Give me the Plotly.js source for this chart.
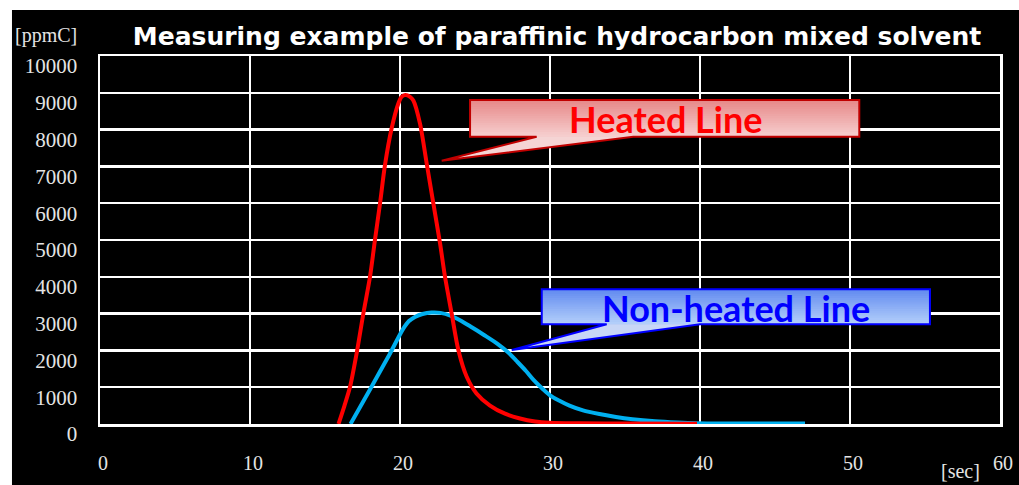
<!DOCTYPE html>
<html>
<head>
<meta charset="utf-8">
<script src="https://cdn.plot.ly/plotly-3.0.1.min.js"></script>
<style>html,body{margin:0;padding:0;background:#fff;}#chart{width:1019px;height:485px;}</style>
</head>
<body>
<div id="chart"></div>
<script>
// ---- data ----
const heatedTime = [15.9, 16.3, 16.67, 17.1, 17.56, 18.0, 18.33, 18.67, 19.0, 19.44, 19.89, 20.1, 20.35, 20.67, 20.89, 21.33, 21.78, 22.22, 22.67, 23.0, 23.44, 23.89, 24.44, 25.1, 26.0, 27.0, 28.0, 29.0, 30.0, 32.0, 35.0, 39.8];
const heatedPpmC = [0, 500, 1010, 1900, 3010, 4000, 5000, 6000, 7040, 8030, 8710, 8890, 8940, 8890, 8790, 8170, 7080, 6000, 4910, 4000, 3010, 2010, 1290, 830, 500, 280, 150, 70, 35, 20, 12, 8];

const nonHeatedTime = [16.7, 18.0, 19.3, 20.2, 20.6, 21.0, 21.5, 22.1, 22.7, 23.4, 24.0, 24.7, 25.6, 26.5, 27.2, 27.8, 28.4, 28.9, 29.5, 30.0, 30.6, 31.3, 32.2, 33.3, 34.4, 35.5, 37.0, 38.5, 39.7, 42.0, 47.0];
const nonHeatedPpmC = [0, 940, 1890, 2580, 2800, 2910, 2990, 3030, 3020, 2940, 2820, 2650, 2420, 2180, 1950, 1700, 1440, 1200, 960, 780, 640, 500, 370, 270, 190, 130, 75, 40, 20, 12, 12];

const xTickVals = [0, 10, 20, 30, 40, 50, 60];
const yTickVals = [0, 1000, 2000, 3000, 4000, 5000, 6000, 7000, 8000, 9000, 10000];

const titleText = "Measuring example of paraffinic hydrocarbon mixed solvent";
const yUnit = "[ppmC]";
const xUnit = "[sec]";
const heatedLabel = "Heated Line";
const nonHeatedLabel = "Non-heated Line";

// ---- helpers for callout styling ----
function lerp(a, b, f) { return Math.round(a + (b - a) * f); }
function calloutShapes(box, tail, topRGB, botRGB, tailFill, border) {
  const shapes = [];
  const n = 16;
  for (let i = 0; i < n; i++) {
    const f = i / (n - 1);
    const c = 'rgb(' + lerp(topRGB[0], botRGB[0], f) + ',' + lerp(topRGB[1], botRGB[1], f) + ',' + lerp(topRGB[2], botRGB[2], f) + ')';
    const y1 = box.y1 - (box.y1 - box.y0) * i / n;
    shapes.push({type: 'rect', xref: 'x', yref: 'y', x0: box.x0, x1: box.x1, y0: box.y0, y1: y1,
      fillcolor: c, line: {width: 0}, layer: 'above'});
  }
  shapes.push({type: 'path', xref: 'x', yref: 'y', layer: 'above',
    path: 'M' + tail.a + ',' + box.y0 + ' L' + tail.tx + ',' + tail.ty + ' L' + tail.b + ',' + box.y0 + ' Z',
    fillcolor: tailFill, line: {width: 0}});
  shapes.push({type: 'path', xref: 'x', yref: 'y', layer: 'above',
    path: 'M' + box.x0 + ',' + box.y1 + ' L' + box.x1 + ',' + box.y1 + ' L' + box.x1 + ',' + box.y0 +
          ' L' + tail.b + ',' + box.y0 + ' L' + tail.tx + ',' + tail.ty + ' L' + tail.a + ',' + box.y0 +
          ' L' + box.x0 + ',' + box.y0 + ' Z',
    fillcolor: 'rgba(0,0,0,0)', line: {color: border, width: 2}});
  return shapes;
}

const heatedBox = {x0: 24.67, x1: 50.62, y0: 7807, y1: 8804};
const heatedTail = {a: 29.11, b: 35.55, tx: 22.78, ty: 7155};
const nonBox = {x0: 29.45, x1: 55.33, y0: 2709, y1: 3660};
const nonTail = {a: 33.78, b: 40.0, tx: 27.45, ty: 2011};

let shapes = [
  {type: 'rect', xref: 'paper', yref: 'paper', x0: -0.115, x1: -0.0978, y0: -0.2, y1: 1.16, fillcolor: '#ffffff', line: {width: 0}, layer: 'below'},
  {type: 'rect', xref: 'paper', yref: 'paper', x0: -0.115, x1: 1.03, y0: 1.125, y1: 1.16, fillcolor: '#ffffff', line: {width: 0}, layer: 'below'}
];
shapes = shapes.concat(calloutShapes(heatedBox, heatedTail, [231, 138, 138], [246, 205, 205], 'rgb(245,212,212)', '#C00000'));
shapes = shapes.concat(calloutShapes(nonBox, nonTail, [100, 140, 240], [178, 206, 250], 'rgb(200,214,246)', '#0000FF'));

const traces = [
  {x: nonHeatedTime, y: nonHeatedPpmC, type: 'scatter', mode: 'lines', name: nonHeatedLabel,
   line: {color: '#00B0F0', width: 4, shape: 'spline', smoothing: 0.8}, hoverinfo: 'skip'},
  {x: heatedTime, y: heatedPpmC, type: 'scatter', mode: 'lines', name: heatedLabel,
   line: {color: '#FF0000', width: 4, shape: 'spline', smoothing: 0.8}, hoverinfo: 'skip'}
];

const serif = '"Liberation Serif", "DejaVu Serif", serif';
const xTickFont = {family: serif, size: 20, color: '#E4E4E4'};
const yTickFont = {family: serif, size: 21, color: '#E4E4E4'};

const layout = {
  width: 1019, height: 485,
  margin: {l: 100, r: 19, t: 56, b: 61, pad: 0},
  paper_bgcolor: '#000000',
  plot_bgcolor: '#000000',
  showlegend: false,
  title: {text: titleText, font: {family: '"DejaVu Sans", Verdana, sans-serif', size: 25, color: '#ffffff', weight: 'bold'},
          xref: 'container', yref: 'container', x: 557 / 1019, y: 1 - 36 / 485, xanchor: 'center', yanchor: 'middle'},
  xaxis: {range: [0, 60], tickvals: xTickVals, ticktext: xTickVals.map(String), ticks: '',
          showgrid: true, gridcolor: '#ffffff', gridwidth: 2.5, zeroline: false,
          showline: true, mirror: true, linecolor: '#ffffff', linewidth: 2.5,
          tickfont: xTickFont, ticklabelstandoff: 19, ticklabelshift: 3, fixedrange: true},
  yaxis: {range: [0, 10000], tickvals: yTickVals, ticktext: yTickVals.map(String), ticks: '',
          showgrid: true, gridcolor: '#ffffff', gridwidth: 2.5, zeroline: false,
          showline: true, mirror: true, linecolor: '#ffffff', linewidth: 2.5,
          tickfont: yTickFont, ticklabelstandoff: 16, ticklabelshift: 10, fixedrange: true},
  shapes: shapes,
  annotations: [
    {text: yUnit, xref: 'paper', yref: 'paper', x: (79 - 100) / 900, y: (424 - 36) / 368, xanchor: 'right', yanchor: 'middle',
     showarrow: false, font: xTickFont},
    {text: xUnit, xref: 'paper', yref: 'paper', x: (960 - 100) / 900, y: (424 - 484) / 368, xanchor: 'center', yanchor: 'bottom',
     showarrow: false, font: xTickFont},
    {text: '<b>' + heatedLabel + '</b>', xref: 'x', yref: 'y', x: 37.67, y: 8288, xanchor: 'center', yanchor: 'middle',
     showarrow: false, font: {family: 'Lato, "Open Sans", sans-serif', size: 36, color: '#FF0000'}},
    {text: '<b>' + nonHeatedLabel + '</b>', xref: 'x', yref: 'y', x: 42.37, y: 3152, xanchor: 'center', yanchor: 'middle',
     showarrow: false, font: {family: 'Lato, "Open Sans", sans-serif', size: 36, color: '#0000FF'}}
  ]
};

Plotly.newPlot('chart', traces, layout, {displayModeBar: false, staticPlot: true});
</script>
</body>
</html>
